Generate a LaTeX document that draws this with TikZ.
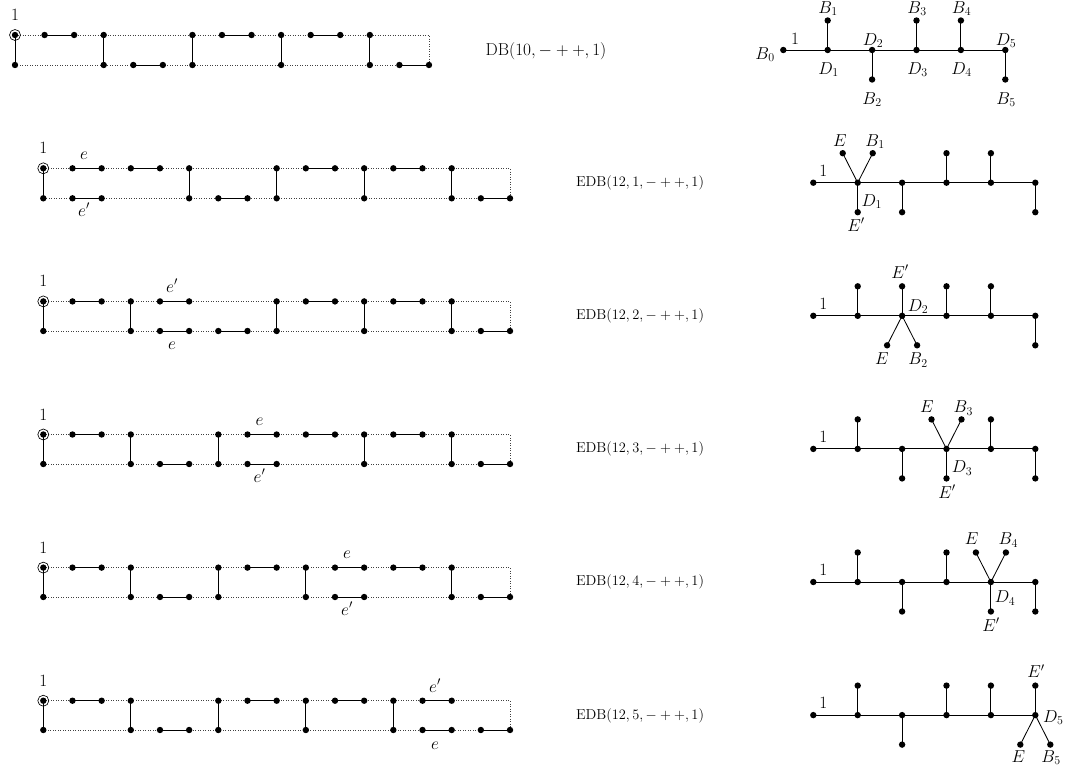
\documentclass[tikz,border=0pt]{standalone}
\tikzset{
 dot/.style={circle,fill=black,draw=none,inner sep=0pt,minimum size=6.4pt},
 edge/.style={line width=0.85pt,black},
 frame/.style={line width=0.55pt,black!75,dash pattern=on 0.6pt off 1.9pt},
 ring/.style={circle,draw=black,line width=0.65pt,minimum size=11pt,inner sep=0pt},
 lab/.style={font=\fontsize{17.5}{20}\selectfont,inner sep=0pt,anchor=base},
 txt/.style={font=\fontsize{13.7}{16}\selectfont,inner sep=0pt},
 bigtxt/.style={font=\fontsize{18}{21}\selectfont,inner sep=0pt},
}
% #1 name, #2 x0, #3 dx, #4 ytop, #5 ybot, #6 N, #7 verticals, #8 top pairs, #9 bottom pairs
\newcommand\myladder[9]{%
  \foreach \i in {0,...,#6}{%
    \coordinate (#1t\i) at ({#2+\i*#3},#4);
    \coordinate (#1b\i) at ({#2+\i*#3},#5);
  }
  \draw[frame] (#1t0) -- (#1t#6) -- (#1b#6) -- (#1b0);
  \foreach \v in {#7}{\draw[edge] (#1t\v) -- (#1b\v);}
  \foreach \a/\b in {#8}{\draw[edge] (#1t\a) -- (#1t\b);}
  \foreach \a/\b in {#9}{\draw[edge] (#1b\a) -- (#1b\b);}
  \foreach \v in {#7}{\node[dot] (#1T\v) at (#1t\v) {}; \node[dot] (#1B\v) at (#1b\v) {};}
  \foreach \a/\b in {#8}{\node[dot] (#1T\a) at (#1t\a) {}; \node[dot] (#1T\b) at (#1t\b) {};}
  \foreach \a/\b in {#9}{\node[dot] (#1B\a) at (#1b\a) {}; \node[dot] (#1B\b) at (#1b\b) {};}
  \node[ring] (#1ring) at (#1t0) {};
  \node[lab] (#1one) at ([yshift=14.5pt]#1t0) {$1$};
}
% #1 name, #2 special branch k (0 = none), #3 spine y, #4 root x
\newcommand\mytree[4]{%
  \foreach \i in {0,...,5}{\coordinate (#1s\i) at ({#4+44.4*\i},#3);}
  \draw[edge] (#1s0) -- (#1s5);
  \foreach \i/\d in {1/-1,2/1,3/-1,4/-1,5/1}{%
    \ifnum\i=#2\relax
      \coordinate (#1E) at ({#4+44.4*\i-15},{#3+(\d)*29.5});
      \coordinate (#1l\i) at ({#4+44.4*\i+15},{#3+(\d)*29.5});
      \coordinate (#1Ep) at ({#4+44.4*\i},{#3-(\d)*29.5});
      \draw[edge] (#1E) -- (#1s\i) -- (#1l\i);
      \draw[edge] (#1s\i) -- (#1Ep);
      \node[dot] (#1nE) at (#1E) {};
      \node[dot] (#1nEp) at (#1Ep) {};
    \else
      \coordinate (#1l\i) at ({#4+44.4*\i},{#3+(\d)*29.5});
      \draw[edge] (#1s\i) -- (#1l\i);
    \fi
    \node[dot] (#1nl\i) at (#1l\i) {};
  }
  \foreach \i in {0,...,5}{\node[dot] (#1ns\i) at (#1s\i) {};}
}
\begin{document}
\begin{tikzpicture}[x=1pt,y=-1pt]
\useasboundingbox (0,0) rectangle (1065,777);

% ---------- row 1 : DB ----------
\myladder{A}{15}{29.57}{35}{65}{14}{0,3,6,9,12}{1/2,7/8,10/11}{4/5,13/14}
\node[bigtxt] (Atxt) at (546,51) {$\mathrm{DB}(10,-++,1)$};
\mytree{P}{0}{50}{783.3}
\node[lab] (PB0) at (765,59) {$B_0$};
\node[lab] (P1) at (795,44) {$1$};
\node[lab] (PB1) at (828,13) {$B_1$};
\node[lab] (PD1) at (828.5,74.3) {$D_1$};
\node[lab] (PD2) at (873,45) {$D_2$};
\node[lab] (PB2) at (872,104) {$B_2$};
\node[lab] (PB3) at (917,13) {$B_3$};
\node[lab] (PD3) at (917.5,74.3) {$D_3$};
\node[lab] (PB4) at (961.5,13) {$B_4$};
\node[lab] (PD4) at (961.5,74.3) {$D_4$};
\node[lab] (PD5) at (1006,45) {$D_5$};
\node[lab] (PB5) at (1006,104) {$B_5$};

% ---------- row 2 : k=1 ----------
\myladder{B}{43.3}{29.17}{168.3}{198.3}{16}{0,5,8,11,14}{1/2,3/4,9/10,12/13}{1/2,6/7,15/16}
\node[lab] (Be) at (84,159) {$e$};
\node[lab] (Bep) at (84,216) {$e'$};
\node[txt] (Btxt) at (640,183.3) {$\mathrm{EDB}(12,1,-++,1)$};
\mytree{Q}{1}{182.7}{813.3}
\node[lab] (Q1) at (823.3,176) {$1$};
\node[lab] (QE) at (840,146) {$E$};
\node[lab] (QB) at (875,146) {$B_1$};
\node[lab] (QD) at (871.7,206) {$D_1$};
\node[lab] (QEp) at (856,231) {$E'$};

% ---------- row 3 : k=2 ----------
\myladder{C}{43.3}{29.17}{301.4}{331}{16}{0,3,8,11,14}{1/2,4/5,9/10,12/13}{4/5,6/7,15/16}
\node[lab] (Cep) at (172,292) {$e'$};
\node[lab] (Ce) at (172,349) {$e$};
\node[txt] (Ctxt) at (640,316.2) {$\mathrm{EDB}(12,2,-++,1)$};
\mytree{R}{2}{315.8}{813.3}
\node[lab] (R1) at (823.3,309) {$1$};
\node[lab] (REp) at (900,278) {$E'$};
\node[lab] (RD) at (918,311.2) {$D_2$};
\node[lab] (RE) at (882,364.6) {$E$};
\node[lab] (RB) at (918,364.6) {$B_2$};

% ---------- row 4 : k=3 ----------
\myladder{D}{43.3}{29.17}{434.5}{464}{16}{0,3,6,11,14}{1/2,7/8,9/10,12/13}{4/5,7/8,15/16}
\node[lab] (De) at (259.5,425) {$e$};
\node[lab] (Dep) at (259.5,482) {$e'$};
\node[txt] (Dtxt) at (640,449.2) {$\mathrm{EDB}(12,3,-++,1)$};
\mytree{S}{3}{448.9}{813.3}
\node[lab] (S1) at (823.3,442.2) {$1$};
\node[lab] (SE) at (927,412.8) {$E$};
\node[lab] (SB) at (963.3,412.8) {$B_3$};
\node[lab] (SD) at (962,472.8) {$D_3$};
\node[lab] (SEp) at (947,498) {$E'$};

% ---------- row 5 : k=4 ----------
\myladder{E}{43.3}{29.17}{567.6}{597}{16}{0,3,6,9,14}{1/2,7/8,10/11,12/13}{4/5,10/11,15/16}
\node[lab] (Ee) at (347,558) {$e$};
\node[lab] (Eep) at (347,615) {$e'$};
\node[txt] (Etxt) at (640,582.3) {$\mathrm{EDB}(12,4,-++,1)$};
\mytree{T}{4}{582}{813.3}
\node[lab] (T1) at (823.3,575.3) {$1$};
\node[lab] (TE) at (971.7,544.4) {$E$};
\node[lab] (TB) at (1008.3,544.4) {$B_4$};
\node[lab] (TD) at (1005,602.8) {$D_4$};
\node[lab] (TEp) at (991,631) {$E'$};

% ---------- row 6 : k=5 ----------
\myladder{F}{43.3}{29.17}{700.7}{730}{16}{0,3,6,9,12}{1/2,7/8,10/11,13/14}{4/5,13/14,15/16}
\node[lab] (Fep) at (435,692) {$e'$};
\node[lab] (Fe) at (435,749) {$e$};
\node[txt] (Ftxt) at (640,715.4) {$\mathrm{EDB}(12,5,-++,1)$};
\mytree{U}{5}{715.1}{813.3}
\node[lab] (U1) at (823.3,708.4) {$1$};
\node[lab] (UEp) at (1036,677.8) {$E'$};
\node[lab] (UD) at (1053.3,722.1) {$D_5$};
\node[lab] (UE) at (1018.3,762.1) {$E$};
\node[lab] (UB) at (1051,762.1) {$B_5$};
\end{tikzpicture}
\end{document}
